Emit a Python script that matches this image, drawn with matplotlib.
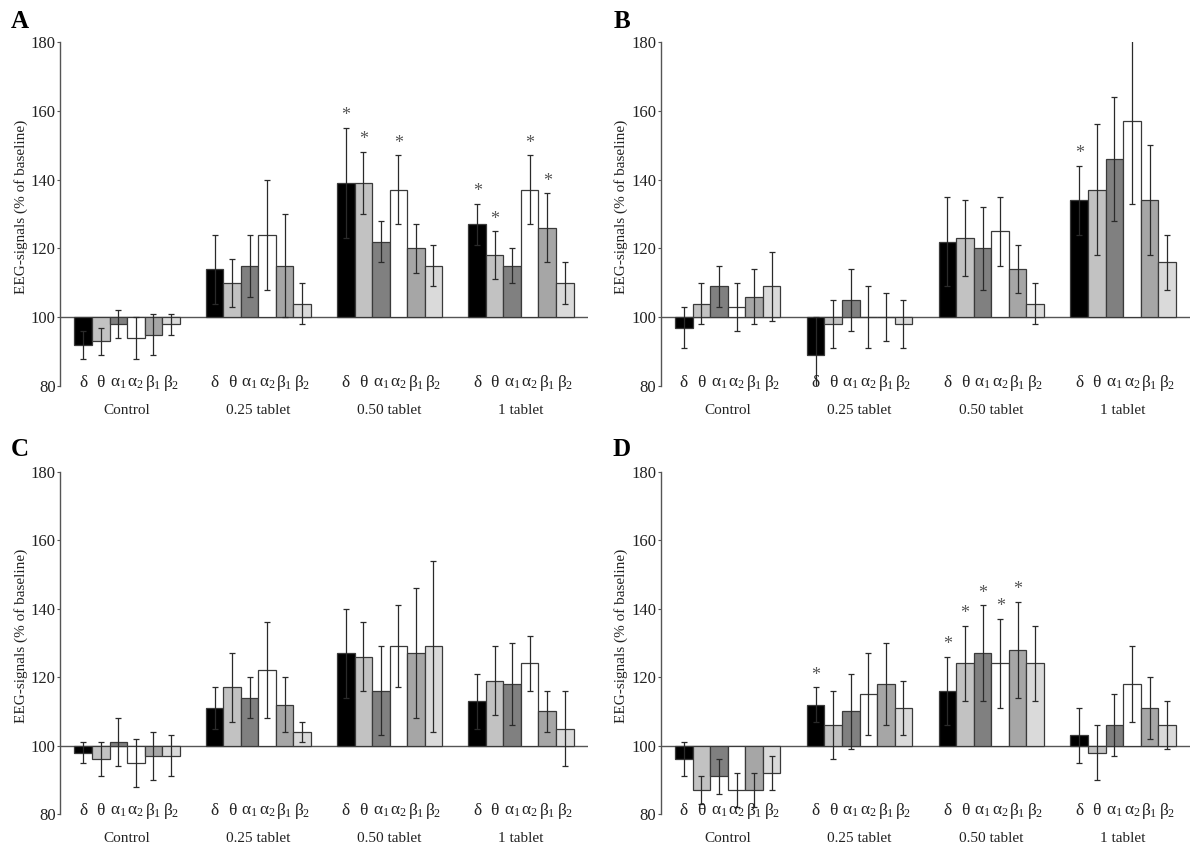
import matplotlib
matplotlib.use("Agg")
import matplotlib.pyplot as plt

plt.rcParams["font.family"] = "Liberation Serif"
plt.rcParams["mathtext.fontset"] = "custom"
plt.rcParams["mathtext.rm"] = "Liberation Serif"
plt.rcParams["mathtext.it"] = "Liberation Serif:italic"
plt.rcParams["mathtext.bf"] = "Liberation Serif:bold"

groups = ["Control", "0.25 tablet", "0.50 tablet", "1 tablet"]
bands = ["δ", "θ", "α$_1$", "α$_2$", "β$_1$", "β$_2$"]
colors = ["#000000", "#c2c2c2", "#808080", "#ffffff", "#a6a6a6", "#dadada"]

# mean values (% of baseline), one row per group, one column per band
a_mean = [[92, 93, 98, 94, 95, 98],
          [114, 110, 115, 124, 115, 104],
          [139, 139, 122, 137, 120, 115],
          [127, 118, 115, 137, 126, 110]]
a_err = [[4, 4, 4, 6, 6, 3],
         [10, 7, 9, 16, 15, 6],
         [16, 9, 6, 10, 7, 6],
         [6, 7, 5, 10, 10, 6]]
a_star = [(2, 0), (2, 1), (2, 3), (3, 0), (3, 1), (3, 3), (3, 4)]

b_mean = [[97, 104, 109, 103, 106, 109],
          [89, 98, 105, 100, 100, 98],
          [122, 123, 120, 125, 114, 104],
          [134, 137, 146, 157, 134, 116]]
b_err = [[6, 6, 6, 7, 8, 10],
         [11, 7, 9, 9, 7, 7],
         [13, 11, 12, 10, 7, 6],
         [10, 19, 18, 24, 16, 8]]
b_star = [(3, 0)]

c_mean = [[98, 96, 101, 95, 97, 97],
          [111, 117, 114, 122, 112, 104],
          [127, 126, 116, 129, 127, 129],
          [113, 119, 118, 124, 110, 105]]
c_err = [[3, 5, 7, 7, 7, 6],
         [6, 10, 6, 14, 8, 3],
         [13, 10, 13, 12, 19, 25],
         [8, 10, 12, 8, 6, 11]]
c_star = []

d_mean = [[96, 87, 91, 87, 87, 92],
          [112, 106, 110, 115, 118, 111],
          [116, 124, 127, 124, 128, 124],
          [103, 98, 106, 118, 111, 106]]
d_err = [[5, 4, 5, 5, 5, 5],
         [5, 10, 11, 12, 12, 8],
         [10, 11, 14, 13, 14, 11],
         [8, 8, 9, 11, 9, 7]]
d_star = [(1, 0), (2, 0), (2, 1), (2, 2), (2, 3), (2, 4)]

panels = [("A", a_mean, a_err, a_star),
          ("B", b_mean, b_err, b_star),
          ("C", c_mean, c_err, c_star),
          ("D", d_mean, d_err, d_star)]

# axes boxes in figure fractions
boxes = [[0.0504, 0.5467, 0.4392, 0.4043],
         [0.5508, 0.5467, 0.4408, 0.4043],
         [0.0504, 0.0444, 0.4392, 0.4020],
         [0.5508, 0.0444, 0.4408, 0.4020]]
letter_pos = [(0.0167, 0.975), (0.518, 0.975), (0.0167, 0.472), (0.518, 0.472)]

step = 7.5
fig = plt.figure(figsize=(12, 8.52), dpi=100)

for (letter, mean, err, stars), box, lp in zip(panels, boxes, letter_pos):
    ax = fig.add_axes(box)
    for g in range(len(groups)):
        xs = [g * step + i + 0.5 for i in range(len(bands))]
        heights = [v - 100 for v in mean[g]]
        ax.bar(xs, heights, width=1.0, bottom=100, color=colors,
               edgecolor="#3a3a3a", linewidth=0.9, zorder=2)
        ax.errorbar(xs, mean[g], yerr=err[g], fmt="none", ecolor="#2a2a2a",
                    elinewidth=0.9, capsize=2.2, capthick=0.9, zorder=3)
        for i, lab in enumerate(bands):
            ax.text(xs[i], 81, lab, ha="center", va="center", fontsize=12.5,
                    color="#222222", zorder=4)
        ax.text(g * step + 3, 73, groups[g], ha="center", va="center",
                fontsize=11, color="#222222", clip_on=False)
    for g, i in stars:
        top = mean[g][i] + err[g][i]
        ax.text(g * step + i + 0.5, top + 2.2, "*", ha="center", va="baseline",
                fontsize=13, color="#555555", zorder=4)

    ax.axhline(100, color="#555555", linewidth=1.0, zorder=1)
    ax.set_xlim(-0.8, 3 * step + 6 + 0.8)
    ax.set_ylim(80, 180)
    ax.set_yticks([80, 100, 120, 140, 160, 180])
    ax.tick_params(axis="y", length=2.5, width=0.8, color="#555555",
                   labelsize=12, labelcolor="#222222", pad=1)
    ax.set_xticks([])
    for s in ["top", "right", "bottom"]:
        ax.spines[s].set_visible(False)
    ax.spines["left"].set_color("#555555")
    ax.spines["left"].set_linewidth(1.0)
    ax.set_ylabel("EEG-signals (% of baseline)", fontsize=11, color="#222222")
    ax.yaxis.set_label_coords(-0.062, 0.52)
    fig.text(lp[0], lp[1], letter, ha="center", va="center", fontsize=18,
             fontweight="bold")

fig.savefig("out.png", dpi=100, facecolor="white")
